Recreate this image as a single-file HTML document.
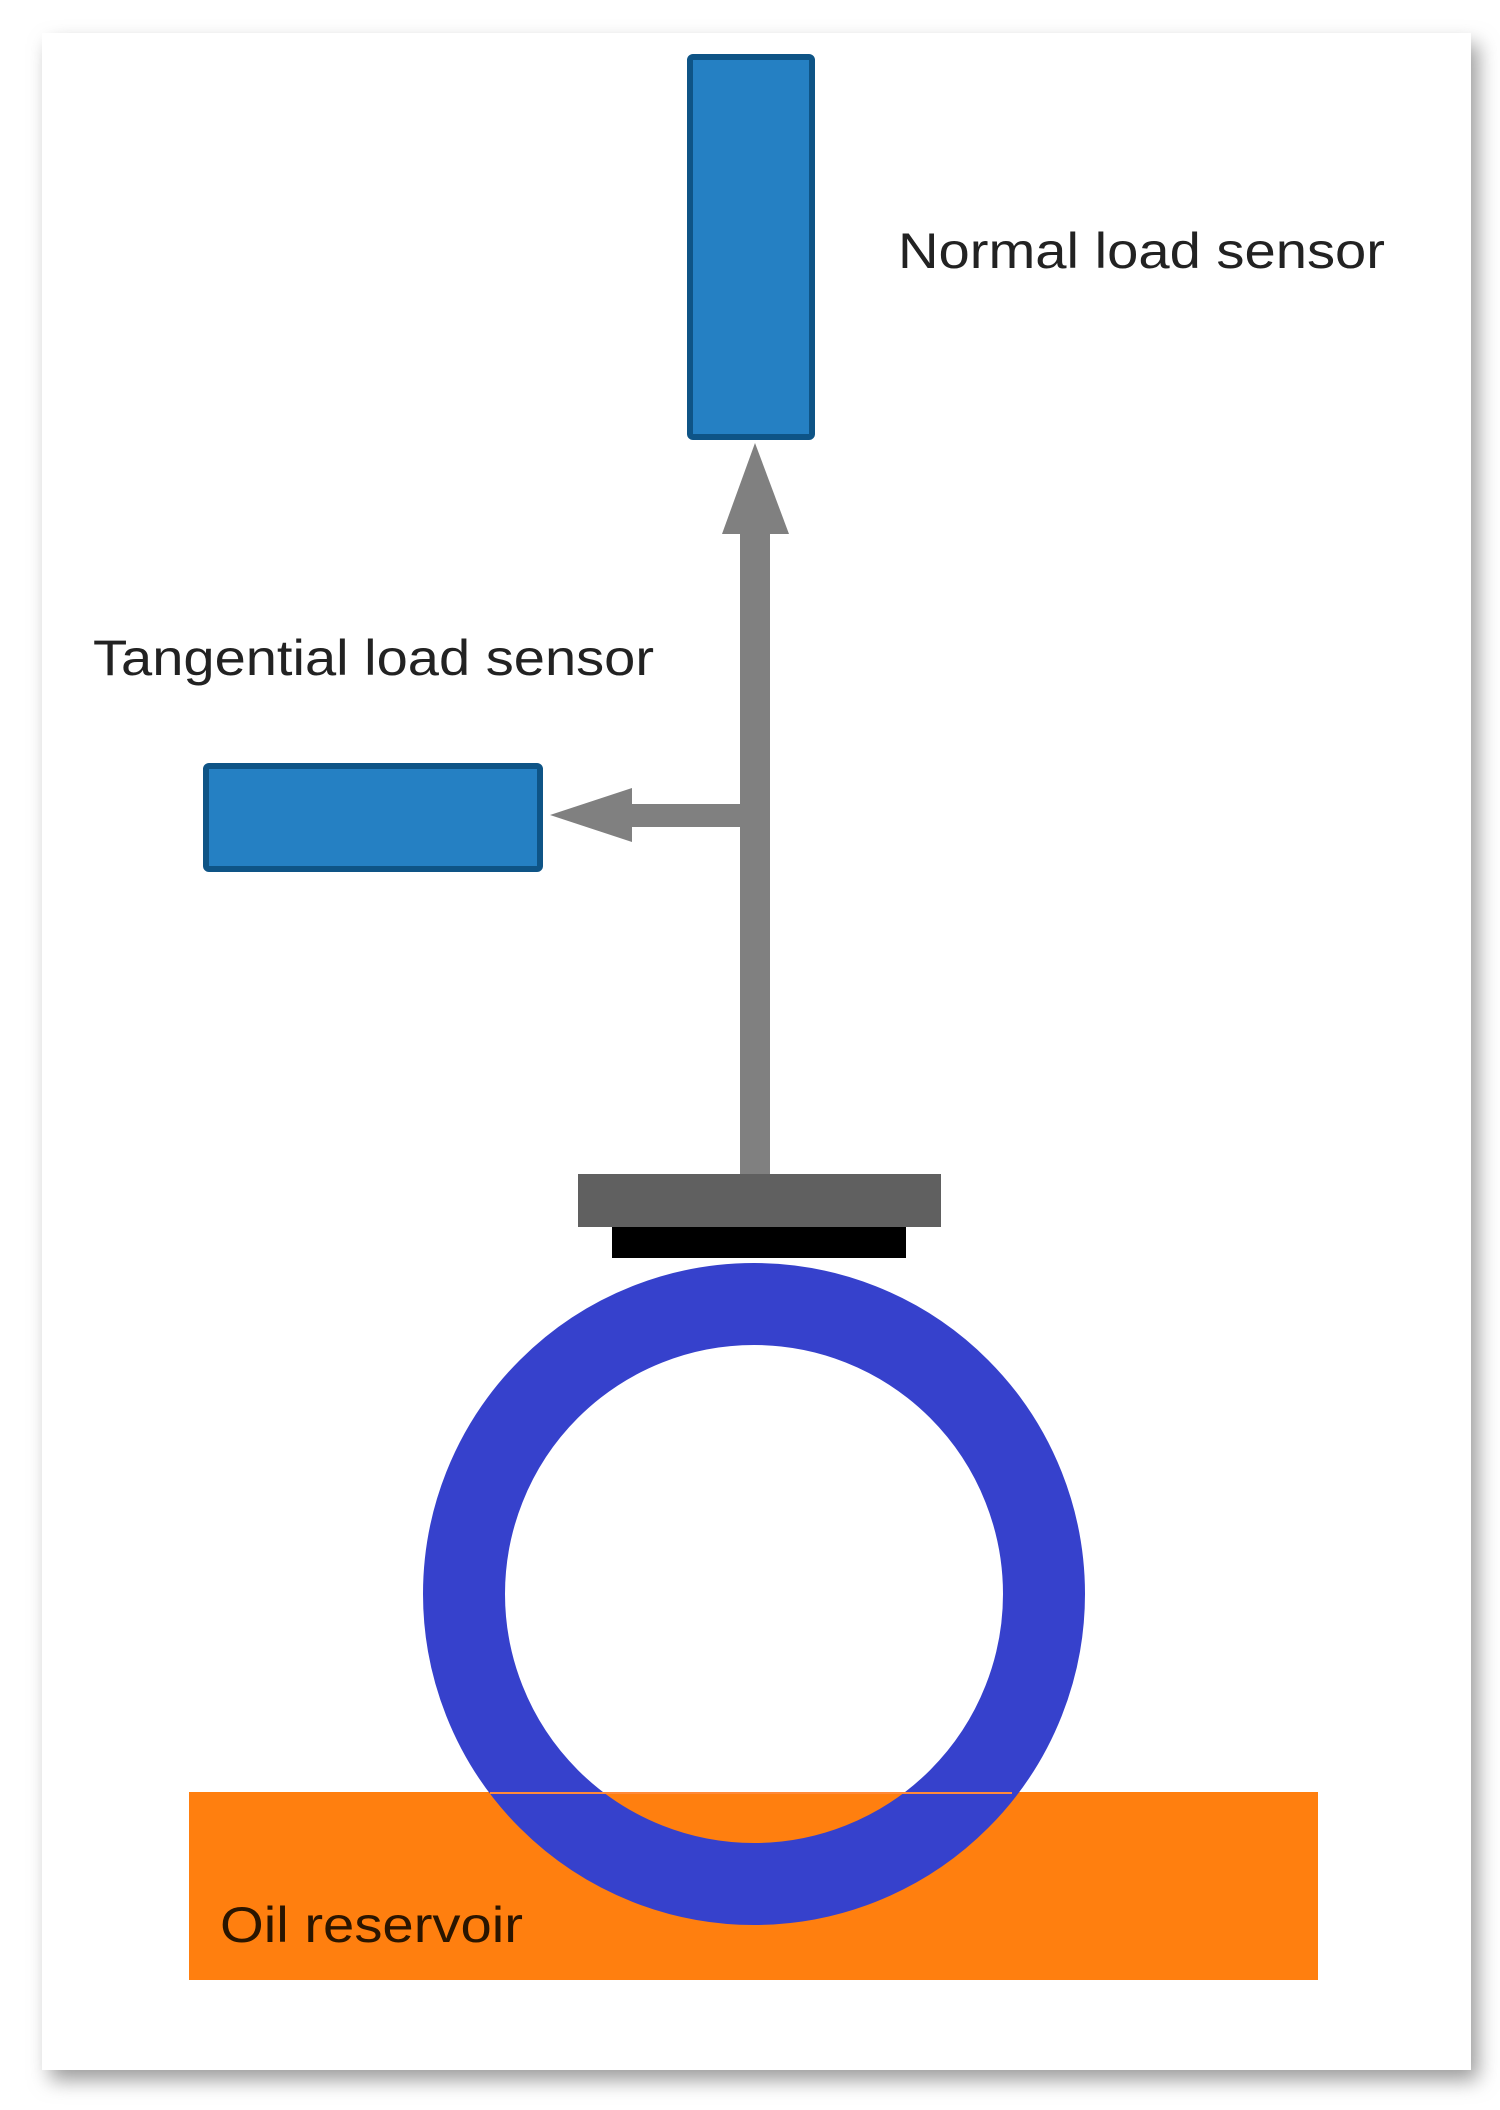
<!DOCTYPE html>
<html><head><style>
html,body{margin:0;padding:0;background:#fff;}
svg{display:block;}
</style></head><body>
<svg width="1500" height="2110" viewBox="0 0 1500 2110" xmlns="http://www.w3.org/2000/svg">
<defs>
<filter id="sh" x="-5%" y="-5%" width="110%" height="110%">
<feGaussianBlur stdDeviation="10"/>
</filter>
</defs>
<rect x="0" y="0" width="1500" height="2110" fill="#fff"/>
<rect x="50" y="44" width="1428" height="2036" fill="#9a9a9a" filter="url(#sh)"/>
<rect x="42" y="33" width="1429" height="2037" fill="#fff"/>
<!-- normal sensor -->
<rect x="690" y="57" width="122" height="380" rx="3" fill="#2580C3" stroke="#0E5486" stroke-width="6"/>
<!-- tangential sensor -->
<rect x="206" y="766" width="334" height="103" rx="3" fill="#2580C3" stroke="#0E5486" stroke-width="6"/>
<!-- shaft -->
<rect x="740" y="530" width="30" height="646" fill="#808080"/>
<polygon points="755,443 722,534 789,534" fill="#808080"/>
<rect x="630" y="804" width="112" height="23" fill="#808080"/>
<polygon points="550,815 632,788 632,842" fill="#808080"/>
<!-- plates -->
<rect x="578" y="1174" width="363" height="53" fill="#606060"/>
<rect x="612" y="1227" width="294" height="31" fill="#000"/>
<!-- oil -->
<rect x="189" y="1792" width="1129" height="188" fill="#FF7F0F"/>
<!-- ring -->
<ellipse cx="754" cy="1594" rx="290" ry="290" fill="none" stroke="#3641CC" stroke-width="82"/>
<line x1="490" y1="1793" x2="1012" y2="1793" stroke="#FF8A3A" stroke-width="2"/>
<!-- labels -->
<text x="898" y="268" font-family="Liberation Sans, sans-serif" font-size="50" fill="#222" textLength="487" lengthAdjust="spacingAndGlyphs">Normal load sensor</text>
<text x="93" y="675" font-family="Liberation Sans, sans-serif" font-size="50" fill="#222" textLength="561" lengthAdjust="spacingAndGlyphs">Tangential load sensor</text>
<text x="220" y="1942" font-family="Liberation Sans, sans-serif" font-size="50" fill="#2a1500" textLength="303" lengthAdjust="spacingAndGlyphs">Oil reservoir</text>
</svg>
</body></html>
